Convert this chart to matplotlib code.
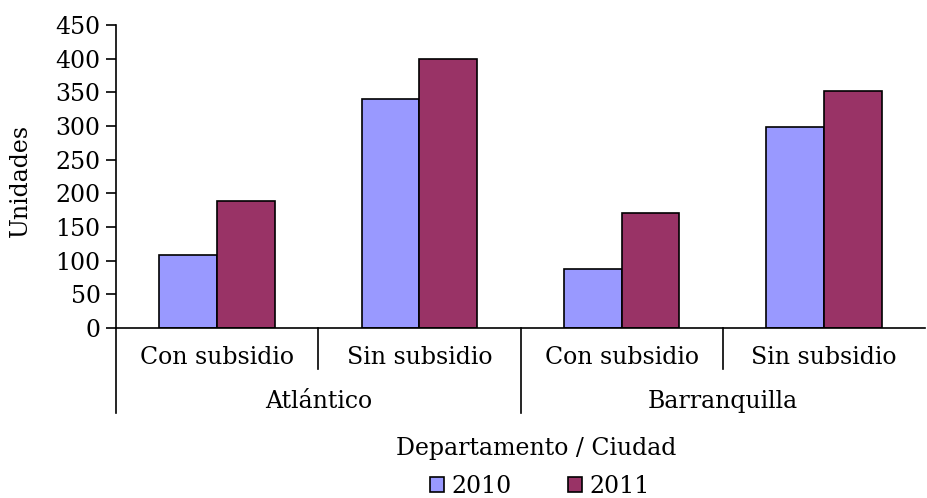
import matplotlib.pyplot as plt
import matplotlib.transforms as mtransforms
from matplotlib.lines import Line2D
import numpy as np

plt.rcParams['font.family'] = ['DejaVu Serif']

# Datos
subcategorias = ['Con subsidio', 'Sin subsidio', 'Con subsidio', 'Sin subsidio']
grupos = ['Atlántico', 'Barranquilla']
valores_2010 = [108, 340, 88, 299]
valores_2011 = [189, 399, 171, 352]
series = ['2010', '2011']

FS = 17

fig = plt.figure(figsize=(9.27, 4.98), dpi=100)
ax = fig.add_axes([116 / 927, (498 - 328) / 498, (925 - 116) / 927, 303 / 498])

x = np.arange(len(subcategorias))
ancho = 0.285
ax.bar(x - ancho / 2, valores_2010, ancho, color='#9999FF', edgecolor='black',
       linewidth=1.2, label=series[0])
ax.bar(x + ancho / 2, valores_2011, ancho, color='#993366', edgecolor='black',
       linewidth=1.2, label=series[1])

ax.set_xlim(-0.5, len(subcategorias) - 0.5)
ax.set_ylim(0, 450)
ax.set_yticks(range(0, 451, 50))
ax.tick_params(axis='y', labelsize=FS, direction='out', length=7, width=1.2, pad=4)
ax.set_xticks([])
for s in ['top', 'right']:
    ax.spines[s].set_visible(False)
ax.spines['left'].set_linewidth(1.2)
ax.spines['bottom'].set_linewidth(1.2)

def fy(py):
    return 1 - py / 498

fig.text(20 / 927, fy(180), 'Unidades', rotation=90, ha='center', va='center', fontsize=FS)

# Etiquetas de categorías en dos niveles
trans = mtransforms.blended_transform_factory(ax.transData, fig.transFigure)

for i, txt in enumerate(subcategorias):
    ax.text(i, fy(357), txt, transform=trans, ha='center', va='center', fontsize=FS)
for j, txt in enumerate(grupos):
    ax.text(2 * j + 0.5, fy(401), txt, transform=trans, ha='center', va='center', fontsize=FS)

# Divisores
for xd in [0.5, 2.5]:
    fig.add_artist(Line2D([xd, xd], [fy(328), fy(369)], transform=trans,
                          color='black', linewidth=1.2))
for xd in [-0.5, 1.5]:
    fig.add_artist(Line2D([xd, xd], [fy(328), fy(413)], transform=trans,
                          color='black', linewidth=1.2))

fig.text(536 / 927, fy(448), 'Departamento / Ciudad', ha='center', va='center', fontsize=FS)

handles, labels = ax.get_legend_handles_labels()
fig.legend(handles, labels, loc='center', bbox_to_anchor=(540 / 927, fy(486)),
           ncol=2, frameon=False, fontsize=FS, handlelength=0.6, handleheight=0.6,
           handletextpad=0.3, columnspacing=2.4, borderpad=0)

fig.savefig('out.png', dpi=100)
